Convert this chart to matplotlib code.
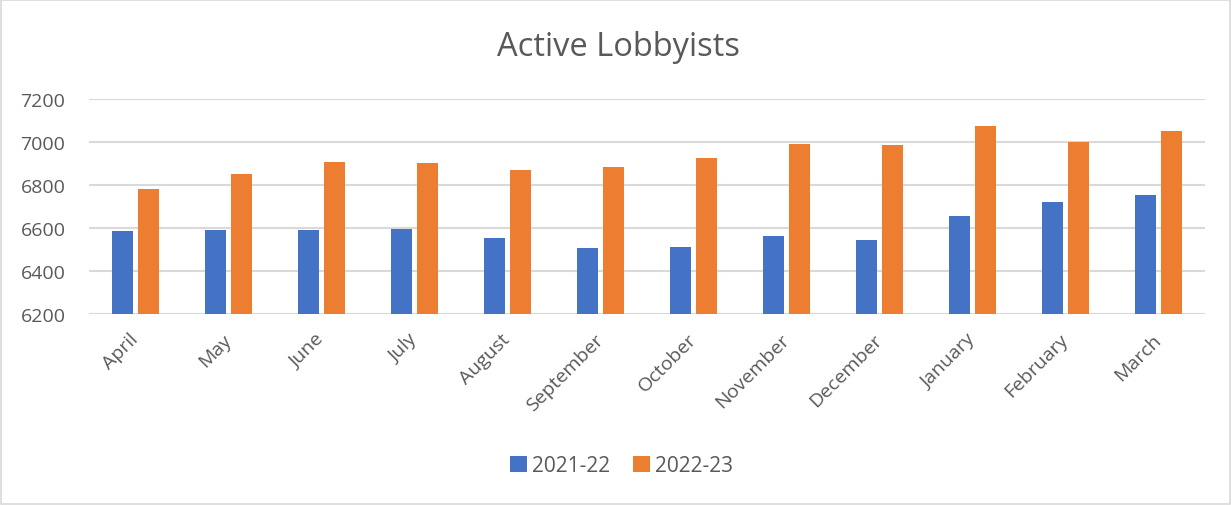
import numpy as np
import matplotlib.pyplot as plt
from matplotlib.patches import Rectangle

months = ["April", "May", "June", "July", "August", "September", "October",
          "November", "December", "January", "February", "March"]
lobby_2021_22 = [6584, 6589, 6589, 6594, 6552, 6505, 6510, 6561, 6543, 6654, 6720, 6752]
lobby_2022_23 = [6780, 6850, 6906, 6901, 6868, 6882, 6924, 6989, 6985, 7073, 7000, 7050]

blue = "#4472c4"
orange = "#ed7d31"
txt = "#595959"

plt.rcParams['font.family'] = ['Open Sans', 'DejaVu Sans']

fig = plt.figure(figsize=(12.32, 5.06), dpi=100)
fig.patches.append(Rectangle((0.0005, 0.001), 0.998, 0.997, transform=fig.transFigure,
                             fill=False, edgecolor="#d9d9d9", linewidth=1.2))
ax = fig.add_axes([89/1232, 1-315/506, (1205-89)/1232, 215/506])

x = np.arange(len(months))
w = 0.226
off = 0.14
ax.bar(x - off, lobby_2021_22, w, color=blue, label="2021-22", zorder=3)
ax.bar(x + off, lobby_2022_23, w, color=orange, label="2022-23", zorder=3)

ax.set_ylim(6200, 7200)
ax.set_xlim(-0.5, len(months) - 0.5)
ax.set_yticks(range(6200, 7201, 200))
ax.yaxis.grid(True, color="#d9d9d9", linewidth=1.5, zorder=0)
for s in ax.spines.values():
    s.set_visible(False)
ax.tick_params(axis='both', length=0, labelsize=14, labelcolor=txt)
ax.tick_params(axis='y', pad=17)
ax.set_xticks(x)
ax.set_xticklabels(months, rotation=45, ha='right', va='center', rotation_mode='anchor')
ax.tick_params(axis='x', pad=16)

fig.text(0.502, 1-47/506, "Active Lobbyists", ha='center', va='center', fontsize=23.5, color=txt)

fig.legend(loc='center', bbox_to_anchor=(0.5045, 1-467/506), ncol=2, frameon=False,
           fontsize=15, labelcolor=txt, handlelength=0.8, handleheight=0.8,
           handletextpad=0.25, columnspacing=1.1)

fig.savefig("out.png", dpi=100)
